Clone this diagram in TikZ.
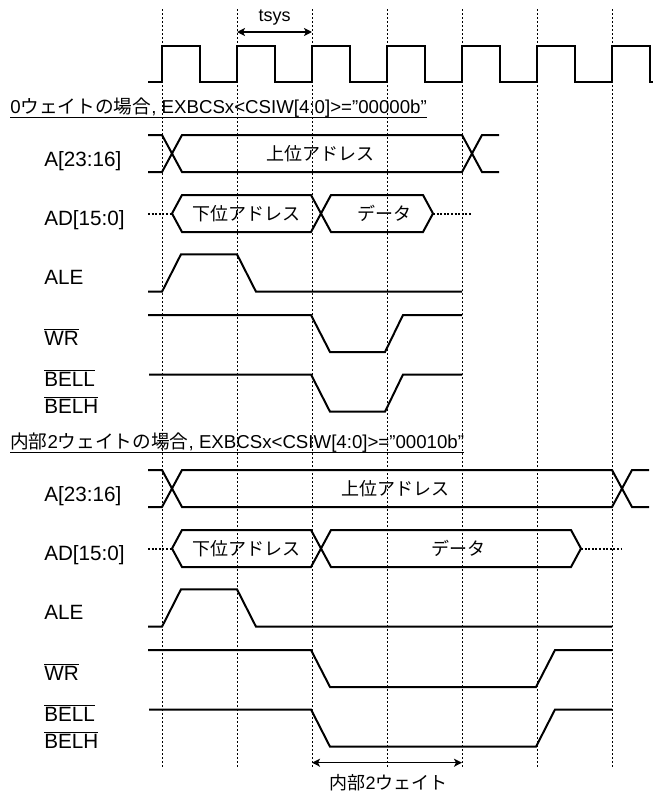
\documentclass[tikz,border=0pt]{standalone}
\usepackage{fontspec}
\setmainfont{Liberation Sans}
\newfontfamily\jp{Noto Sans CJK JP}
\usetikzlibrary{arrows.meta}

\begin{document}
\begin{tikzpicture}[x=0.75pt,y=-0.75pt,
    sig/.style={line width=1.5pt},
    grid/.style={line width=0.6pt,dash pattern=on 1.5pt off 1.5pt},
    idle/.style={line width=1.5pt,dash pattern=on 1.5pt off 1.2pt},
    dim/.style={line width=1.1pt,{Stealth[length=6pt,width=6pt,inset=1.5pt]}-{Stealth[length=6pt,width=6pt,inset=1.5pt]}},
    lbl/.style={anchor=base west,inner sep=0pt,font=\fontsize{15.5pt}{18pt}\selectfont},
    txt/.style={inner sep=0pt,font=\fontsize{13.5pt}{16pt}\selectfont},
    title/.style={inner sep=0pt,anchor=base west,font=\fontsize{14pt}{16pt}\selectfont}]
  \useasboundingbox (0,0) rectangle (653,796);
  \foreach \k in {0,...,6}
    \draw[grid] ({162+75*\k},9) -- ({162+75*\k},768);
  \draw[sig] (148,82) foreach \k in {0,...,6} {
    -- ({162+75*\k},82) -- ({162+75*\k},46) -- ({199.5+75*\k},46) -- ({199.5+75*\k},82)} -- (653,82);
  \coordinate (ts1) at (237,32);
  \coordinate (ts2) at (312,32);
  \draw[dim] (ts1) -- (ts2);
  \node[txt] (tsys) at (274.5,18) {tsys};

  \begin{scope}
    \node[title] (title1) at (10,113) {0{\jp ウェイトの場合}, EXBCSx<CSIW[4:0]>=”00000b”};
    \draw[line width=0.75pt] (title1.south west) -- (title1.south east);
    \node[lbl] (a1) at (44,166.5) {A[23:16]};
    \node[lbl] (ad1) at (44,225.5) {AD[15:0]};
    \node[lbl] (ale1) at (44,284) {ALE};
    \node[lbl] (wr1) at (44,345) {\(\overline{\mbox{WR}}\)};
    \node[lbl] (bell1) at (44,386.7) {\(\overline{\mbox{BELL}}\)};
    \node[lbl] (belh1) at (44,413.3) {\(\overline{\mbox{BELH}}\)};
    \draw[sig] (148,135) -- (162,135) -- (182,172) -- (462,172) -- (482,135) -- (499,135);
    \draw[sig] (148,172) -- (162,172) -- (182,135) -- (462,135) -- (482,172) -- (499,172);
    \node[txt,font=\jp\fontsize{13.5pt}{16pt}\selectfont] (hi1) at (320,153.5) {上位アドレス};
    \draw[idle] (148,213.5) -- (172,213.5);
    \draw[sig] (182,195) -- (172,213.5) -- (182,232) -- (311,232) -- (331,195) -- (423,195)
      -- (433,213.5) -- (423,232) -- (331,232) -- (311,195) -- cycle;
    \draw[idle] (433,213.5) -- (472,213.5);
    \node[txt,font=\jp\fontsize{13.5pt}{16pt}\selectfont] (lo1) at (246,213.5) {下位アドレス};
    \node[txt,font=\jp\fontsize{13.5pt}{16pt}\selectfont] (dat1) at (384,213.5) {データ};
    \draw[sig] (148,291.7) -- (162,291.7) -- (181,254.3) -- (237,254.3) -- (256,291.7) -- (462,291.7);
    \draw[sig] (148,315) -- (311,315) -- (330,352) -- (385,352) -- (403,315) -- (462,315);
    \draw[sig] (149,374.5) -- (311,374.5) -- (330,411.7) -- (385,411.7) -- (403,374.5) -- (462,374.5);
  \end{scope}

  \begin{scope}[shift={(0,335)}]
    \node[title] (title2) at (10,113) {{\jp 内部}2{\jp ウェイトの場合}, EXBCSx<CSIW[4:0]>=”00010b”};
    \draw[line width=0.75pt] (title2.south west) -- (title2.south east);
    \node[lbl] (a2) at (44,166.5) {A[23:16]};
    \node[lbl] (ad2) at (44,225.5) {AD[15:0]};
    \node[lbl] (ale2) at (44,284) {ALE};
    \node[lbl] (wr2) at (44,345) {\(\overline{\mbox{WR}}\)};
    \node[lbl] (bell2) at (44,386.7) {\(\overline{\mbox{BELL}}\)};
    \node[lbl] (belh2) at (44,413.3) {\(\overline{\mbox{BELH}}\)};
    \draw[sig] (148,135) -- (162,135) -- (182,172) -- (612,172) -- (632,135) -- (649,135);
    \draw[sig] (148,172) -- (162,172) -- (182,135) -- (612,135) -- (632,172) -- (649,172);
    \node[txt,font=\jp\fontsize{13.5pt}{16pt}\selectfont] (hi2) at (395,153.5) {上位アドレス};
    \draw[idle] (148,213.5) -- (172,213.5);
    \draw[sig] (182,195) -- (172,213.5) -- (182,232) -- (311,232) -- (331,195) -- (571,195)
      -- (581,213.5) -- (571,232) -- (331,232) -- (311,195) -- cycle;
    \draw[idle] (581,213.5) -- (622,213.5);
    \node[txt,font=\jp\fontsize{13.5pt}{16pt}\selectfont] (lo2) at (246,213.5) {下位アドレス};
    \node[txt,font=\jp\fontsize{13.5pt}{16pt}\selectfont] (dat2) at (458,213.5) {データ};
    \draw[sig] (148,291.7) -- (162,291.7) -- (181,254.3) -- (237,254.3) -- (256,291.7) -- (612,291.7);
    \draw[sig] (148,315) -- (311,315) -- (330,352) -- (536,352) -- (555,315) -- (612,315);
    \draw[sig] (149,374.5) -- (311,374.5) -- (330,411.7) -- (536,411.7) -- (555,374.5) -- (612,374.5);
    \coordinate (w1) at (312,427.7);
    \coordinate (w2) at (462,427.7);
    \draw[dim] (w1) -- (w2);
    \node[txt] (wait) at (388.6,447.7) {{\jp 内部}2{\jp ウェイト}};
  \end{scope}
\end{tikzpicture}
\end{document}
